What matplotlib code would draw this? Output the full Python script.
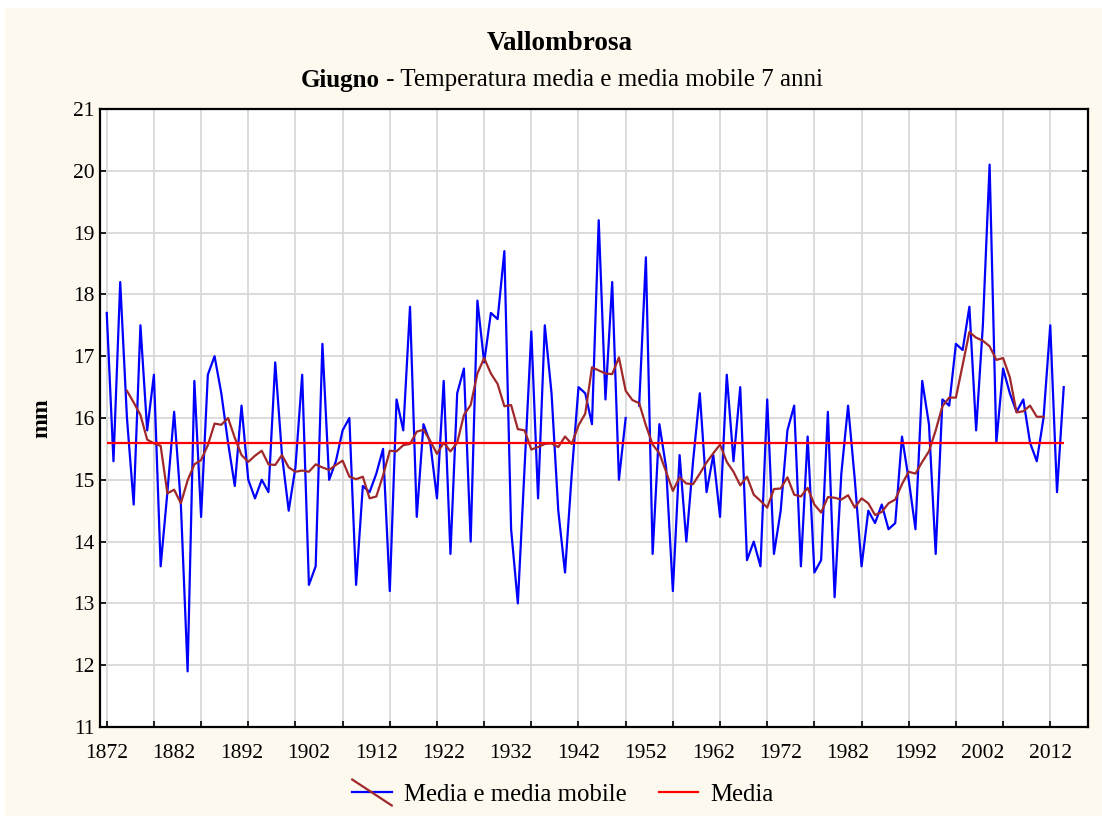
import matplotlib.pyplot as plt
import numpy as np
from matplotlib.lines import Line2D
from matplotlib.legend_handler import HandlerBase
from matplotlib.patches import Rectangle

# temperatura media di giugno, 1872-2014 (1950 mancante)
anni = np.arange(1872, 2015)
temperatura = [
    17.7, 15.3, 18.2, 16.0, 14.6, 17.5, 15.8, 16.7, 13.6, 14.8,   # 1872-1881
    16.1, 14.6, 11.9, 16.6, 14.4, 16.7, 17.0, 16.4, 15.6, 14.9,   # 1882-1891
    16.2, 15.0, 14.7, 15.0, 14.8, 16.9, 15.4, 14.5, 15.2, 16.7,   # 1892-1901
    13.3, 13.6, 17.2, 15.0, 15.3, 15.8, 16.0, 13.3, 14.9, 14.8,   # 1902-1911
    15.1, 15.5, 13.2, 16.3, 15.8, 17.8, 14.4, 15.9, 15.6, 14.7,   # 1912-1921
    16.6, 13.8, 16.4, 16.8, 14.0, 17.9, 16.9, 17.7, 17.6, 18.7,   # 1922-1931
    14.2, 13.0, 15.2, 17.4, 14.7, 17.5, 16.4, 14.5, 13.5, 15.1,   # 1932-1941
    16.5, 16.4, 15.9, 19.2, 16.3, 18.2, 15.0, 16.0, np.nan, 16.2, # 1942-1951
    18.6, 13.8, 15.9, 15.2, 13.2, 15.4, 14.0, 15.3, 16.4, 14.8,   # 1952-1961
    15.4, 14.4, 16.7, 15.3, 16.5, 13.7, 14.0, 13.6, 16.3, 13.8,   # 1962-1971
    14.5, 15.8, 16.2, 13.6, 15.7, 13.5, 13.7, 16.1, 13.1, 15.1,   # 1972-1981
    16.2, 15.0, 13.6, 14.5, 14.3, 14.6, 14.2, 14.3, 15.7, 15.0,   # 1982-1991
    14.2, 16.6, 15.9, 13.8, 16.3, 16.2, 17.2, 17.1, 17.8, 15.8,   # 1992-2001
    17.5, 20.1, 15.6, 16.8, 16.4, 16.1, 16.3, 15.6, 15.3, 16.0,   # 2002-2011
    17.5, 14.8, 16.5,                                             # 2012-2014
]

# media mobile a 7 anni, 1875-2011
anni_mobile = np.arange(1875, 2012)
media_mobile = [
    16.44, 16.25, 16.05, 15.65, 15.59, 15.55, 14.78, 14.84, 14.62, 14.99,  # 1875-1884
    15.25, 15.32, 15.56, 15.91, 15.89, 16.00, 15.68, 15.40, 15.29, 15.39,  # 1885-1894
    15.47, 15.25, 15.24, 15.40, 15.20, 15.13, 15.15, 15.13, 15.25, 15.20,  # 1895-1904
    15.16, 15.24, 15.31, 15.05, 15.01, 15.05, 14.70, 14.73, 15.07, 15.47,  # 1905-1914
    15.46, 15.56, 15.58, 15.78, 15.81, 15.63, 15.42, 15.60, 15.46, 15.60,  # 1915-1924
    16.05, 16.21, 16.72, 16.97, 16.72, 16.55, 16.19, 16.21, 15.82, 15.80,  # 1925-1934
    15.49, 15.53, 15.58, 15.59, 15.53, 15.70, 15.58, 15.88, 16.07, 16.82,  # 1935-1944
    16.77, 16.72, 16.71, 16.98, 16.44, 16.29, 16.24, 15.88, 15.57, 15.43,  # 1945-1954
    15.13, 14.82, 15.04, 14.94, 14.93, 15.10, 15.28, 15.43, 15.57, 15.29,  # 1955-1964
    15.13, 14.91, 15.05, 14.76, 14.66, 14.55, 14.85, 14.86, 15.04, 14.76,  # 1965-1974
    14.73, 14.87, 14.60, 14.47, 14.72, 14.71, 14.68, 14.75, 14.55, 14.70,  # 1975-1984
    14.62, 14.43, 14.48, 14.62, 14.68, 14.93, 15.13, 15.10, 15.29, 15.46,  # 1985-1994
    15.80, 16.19, 16.33, 16.33, 16.86, 17.39, 17.30, 17.25, 17.16, 16.94,  # 1995-2004
    16.97, 16.66, 16.09, 16.11, 16.20, 16.02, 16.02,                       # 2005-2011
]

media = 15.6

anni_etichette = np.arange(1872, 2013, 10)
anni_griglia = np.arange(1872, 2015, 7)

crema = '#fdf9ef'
blu = '#0000ff'
marrone = '#a0282a'
rosso = '#ff0000'

plt.rcParams['font.family'] = ['Liberation Serif', 'DejaVu Serif']

fig = plt.figure(figsize=(11.02, 8.16), dpi=100, facecolor='white')
fig.patches.append(Rectangle((5 / 1102, 0), 1, 1 - 8 / 816, transform=fig.transFigure,
                             facecolor=crema, edgecolor='none', zorder=-10))

ax = fig.add_axes([100 / 1102, 1 - 727 / 816, 988 / 1102, 618 / 816])
ax.set_facecolor('white')

ax.plot(anni, temperatura, color=blu, lw=1.6, zorder=3)
ax.plot(anni_mobile, media_mobile, color=marrone, lw=1.6, zorder=4)
ax.hlines(media, anni[0], anni[-1], color=rosso, lw=1.6, zorder=5)

ax.set_ylim(11, 21)
ax.set_yticks(np.arange(11, 22, 1))
ax.set_xlim(1871.0, 2017.6)

# griglia ogni 7 anni, etichette ogni 10
ax.xaxis.remove_overlapping_locs = False
ax.set_xticks(anni_griglia)
ax.set_xticklabels([])
ax.set_xticks(anni_etichette, minor=True)
ax.set_xticklabels([str(a) for a in anni_etichette], minor=True)
ax.tick_params(axis='x', which='minor', length=0, pad=12, labelsize=15.5)
ax.tick_params(axis='x', which='major', direction='in', length=4, width=1.2)
ax.tick_params(axis='y', which='major', direction='in', length=4, width=1.2,
               labelsize=15.5, right=True, pad=4)

ax.grid(True, which='major', color='#d9d9d9', lw=1.3, zorder=0)
ax.set_axisbelow(True)
for s in ax.spines.values():
    s.set_linewidth(1.6)
    s.set_color('black')

ax.set_ylabel('mm', fontsize=17, fontweight='bold', labelpad=15)

# titoli
fig.text(0.508, 1 - 43 / 816, 'Vallombrosa', ha='center', va='center',
         fontsize=19.5, fontweight='bold')
t1 = fig.text(0, 1 - 80 / 816, 'Giugno', ha='left', va='center', fontsize=18, fontweight='bold')
t2 = fig.text(0, 1 - 80 / 816, ' - Temperatura media e media mobile 7 anni', ha='left',
              va='center', fontsize=18)
fig.canvas.draw()
r = fig.canvas.get_renderer()
w1 = t1.get_window_extent(r).width / fig.bbox.width
w2 = t2.get_window_extent(r).width / fig.bbox.width
x0 = 0.51 - (w1 + w2) / 2
t1.set_x(x0)
t2.set_x(x0 + w1)


class HandlerIncrocio(HandlerBase):
    def create_artists(self, legend, orig_handle, xdescent, ydescent, width, height,
                       fontsize, trans):
        x0, x1 = -xdescent, -xdescent + width
        ym = -ydescent + height / 2
        l1 = Line2D([x0, x1], [ym, ym], color=blu, lw=1.6)
        l2 = Line2D([x0, x1], [ym + height * 0.75, ym - height * 0.75], color=marrone, lw=1.6)
        l1.set_transform(trans)
        l2.set_transform(trans)
        return [l1, l2]


h1 = Line2D([], [], color=blu)
h2 = Line2D([], [], color=rosso, lw=1.6)
fig.legend([h1, h2], ['Media e media mobile', 'Media'], loc='center',
           bbox_to_anchor=(0.511, 1 - 795 / 816), ncol=2, frameon=False, fontsize=17.8,
           handlelength=1.6, handletextpad=0.5, columnspacing=1.3,
           handler_map={h1: HandlerIncrocio()})

fig.savefig('out.png', dpi=100, facecolor=fig.get_facecolor())
